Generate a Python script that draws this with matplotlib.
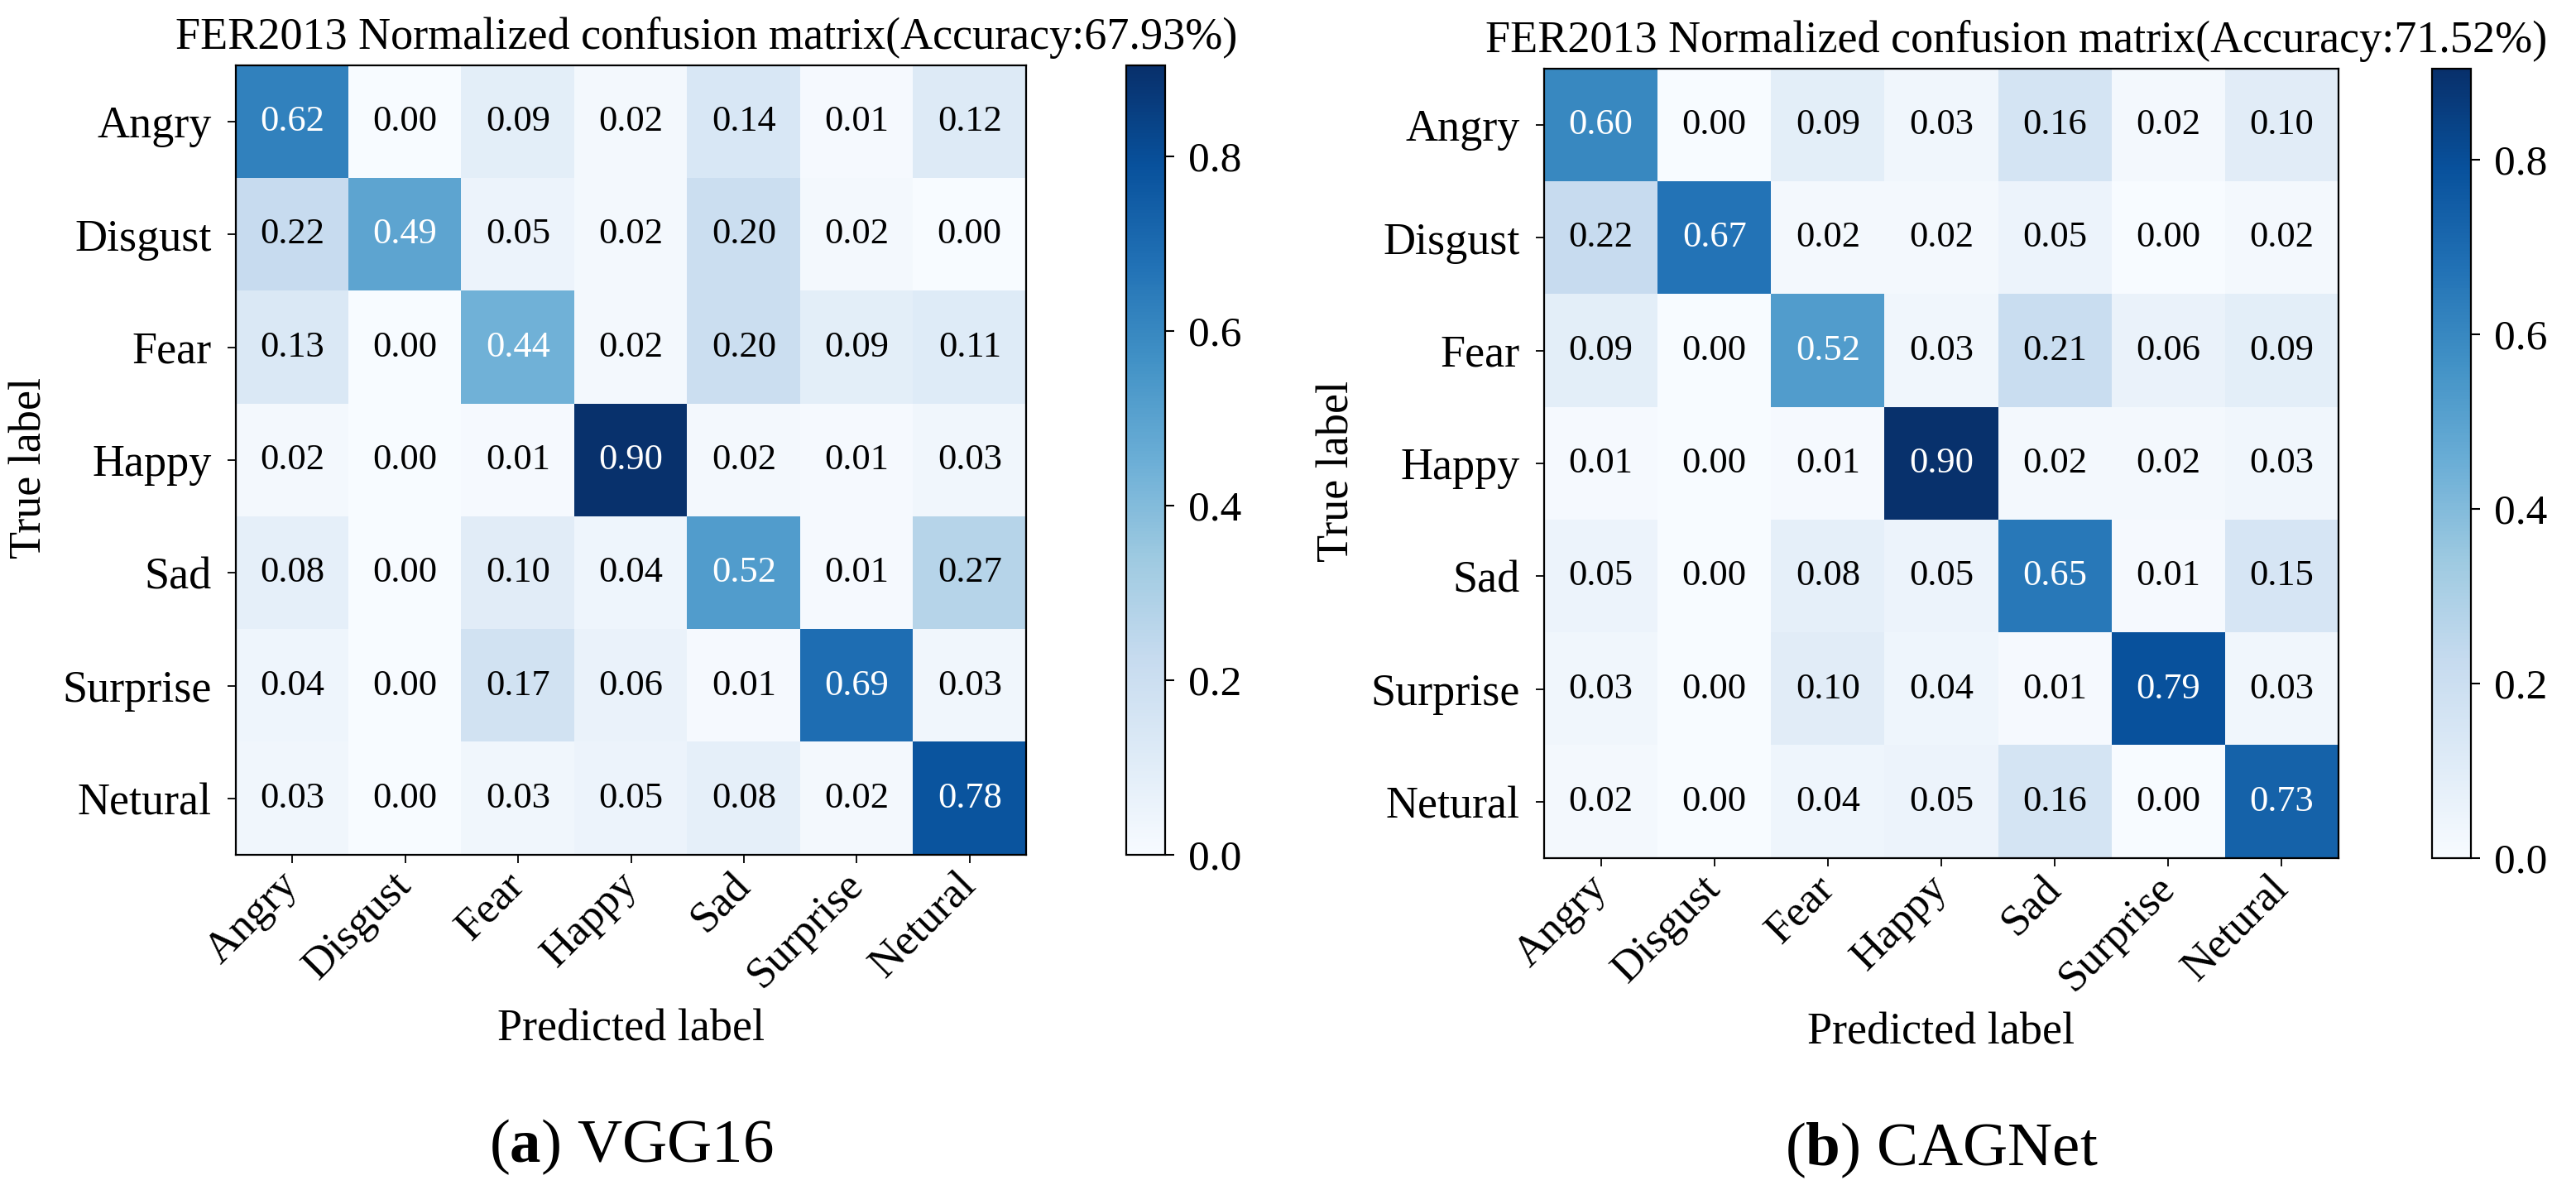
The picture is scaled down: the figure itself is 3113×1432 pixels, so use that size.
import numpy as np
import matplotlib
matplotlib.use("Agg")
import matplotlib.pyplot as plt

plt.rcParams['font.family'] = ['Liberation Serif', 'DejaVu Serif']
plt.rcParams['mathtext.fontset'] = 'custom'
plt.rcParams['mathtext.rm'] = 'Liberation Serif'
plt.rcParams['mathtext.bf'] = 'Liberation Serif:bold'

# class names (spelling kept as in the original figure)
classes = ["Angry", "Disgust", "Fear", "Happy", "Sad", "Surprise", "Netural"]

# VGG16 normalized confusion matrix
vgg16_cm = [
    [0.62, 0.00, 0.09, 0.02, 0.14, 0.01, 0.12],
    [0.22, 0.49, 0.05, 0.02, 0.20, 0.02, 0.00],
    [0.13, 0.00, 0.44, 0.02, 0.20, 0.09, 0.11],
    [0.02, 0.00, 0.01, 0.90, 0.02, 0.01, 0.03],
    [0.08, 0.00, 0.10, 0.04, 0.52, 0.01, 0.27],
    [0.04, 0.00, 0.17, 0.06, 0.01, 0.69, 0.03],
    [0.03, 0.00, 0.03, 0.05, 0.08, 0.02, 0.78],
]

# CAGNet normalized confusion matrix
cagnet_cm = [
    [0.60, 0.00, 0.09, 0.03, 0.16, 0.02, 0.10],
    [0.22, 0.67, 0.02, 0.02, 0.05, 0.00, 0.02],
    [0.09, 0.00, 0.52, 0.03, 0.21, 0.06, 0.09],
    [0.01, 0.00, 0.01, 0.90, 0.02, 0.02, 0.03],
    [0.05, 0.00, 0.08, 0.05, 0.65, 0.01, 0.15],
    [0.03, 0.00, 0.10, 0.04, 0.01, 0.79, 0.03],
    [0.02, 0.00, 0.04, 0.05, 0.16, 0.00, 0.73],
]

accuracies = ["67.93%", "71.52%"]
captions = [r"($\mathbf{a}$) VGG16", r"($\mathbf{b}$) CAGNet"]

W, H = 3113, 1432
fig = plt.figure(figsize=(W / 100, H / 100), dpi=100)


# pixel box -> figure fraction
def px_box(x0, y0, x1, y1):
    return [x0 / W, 1 - y1 / H, (x1 - x0) / W, (y1 - y0) / H]


# draw one confusion matrix panel
def draw_cm(cm, acc, caption, ax_box, cb_box, title_x):
    cm = np.array(cm)
    ax = fig.add_axes(px_box(*ax_box))
    cax = fig.add_axes(px_box(*cb_box))

    im = ax.imshow(cm, cmap='Blues', vmin=0, vmax=0.904, aspect='auto', interpolation='nearest')
    cb = fig.colorbar(im, cax=cax, ticks=[0.0, 0.2, 0.4, 0.6, 0.8])
    cb.ax.tick_params(labelsize=37, length=8, width=1.5, pad=12)
    cb.outline.set_linewidth(1.6)

    for i in range(cm.shape[0]):
        for j in range(cm.shape[1]):
            ax.text(j, i, format(cm[i, j], '.2f'), ha='center', va='center', fontsize=32,
                    color='white' if cm[i, j] > 0.4 else 'black')

    ticks = np.arange(len(classes))
    ax.set_xticks(ticks)
    ax.set_xticklabels(classes, rotation=45, ha='right', va='center', rotation_mode='anchor', fontsize=38)
    ax.set_yticks(ticks)
    ax.set_yticklabels(classes, fontsize=39)
    ax.tick_params(axis='x', length=7, width=1.3, pad=14)
    ax.tick_params(axis='y', length=7, width=1.3, pad=14)
    for s in ax.spines.values():
        s.set_linewidth(1.6)

    ax.set_ylabel('True label', fontsize=39)
    ax.yaxis.set_label_coords(-0.234, 0.49)
    ax.set_xlabel('Predicted label', fontsize=39)
    ax.xaxis.set_label_coords(0.5, -0.195)
    ax.text(title_x, 1.008, 'FER2013 Normalized confusion matrix(Accuracy:' + acc + ')',
            transform=ax.transAxes, ha='center', va='bottom', fontsize=39)
    ax.text(0.5, -0.37, caption, transform=ax.transAxes, ha='center', va='center', fontsize=54)
    return ax


draw_cm(vgg16_cm, accuracies[0], captions[0], (285, 79, 1240, 1033), (1361, 79, 1408, 1033), 0.595)
draw_cm(cagnet_cm, accuracies[1], captions[1], (1866, 83, 2826, 1037), (2939, 83, 2986, 1037), 0.594)

fig.savefig('out.png', dpi=100)
